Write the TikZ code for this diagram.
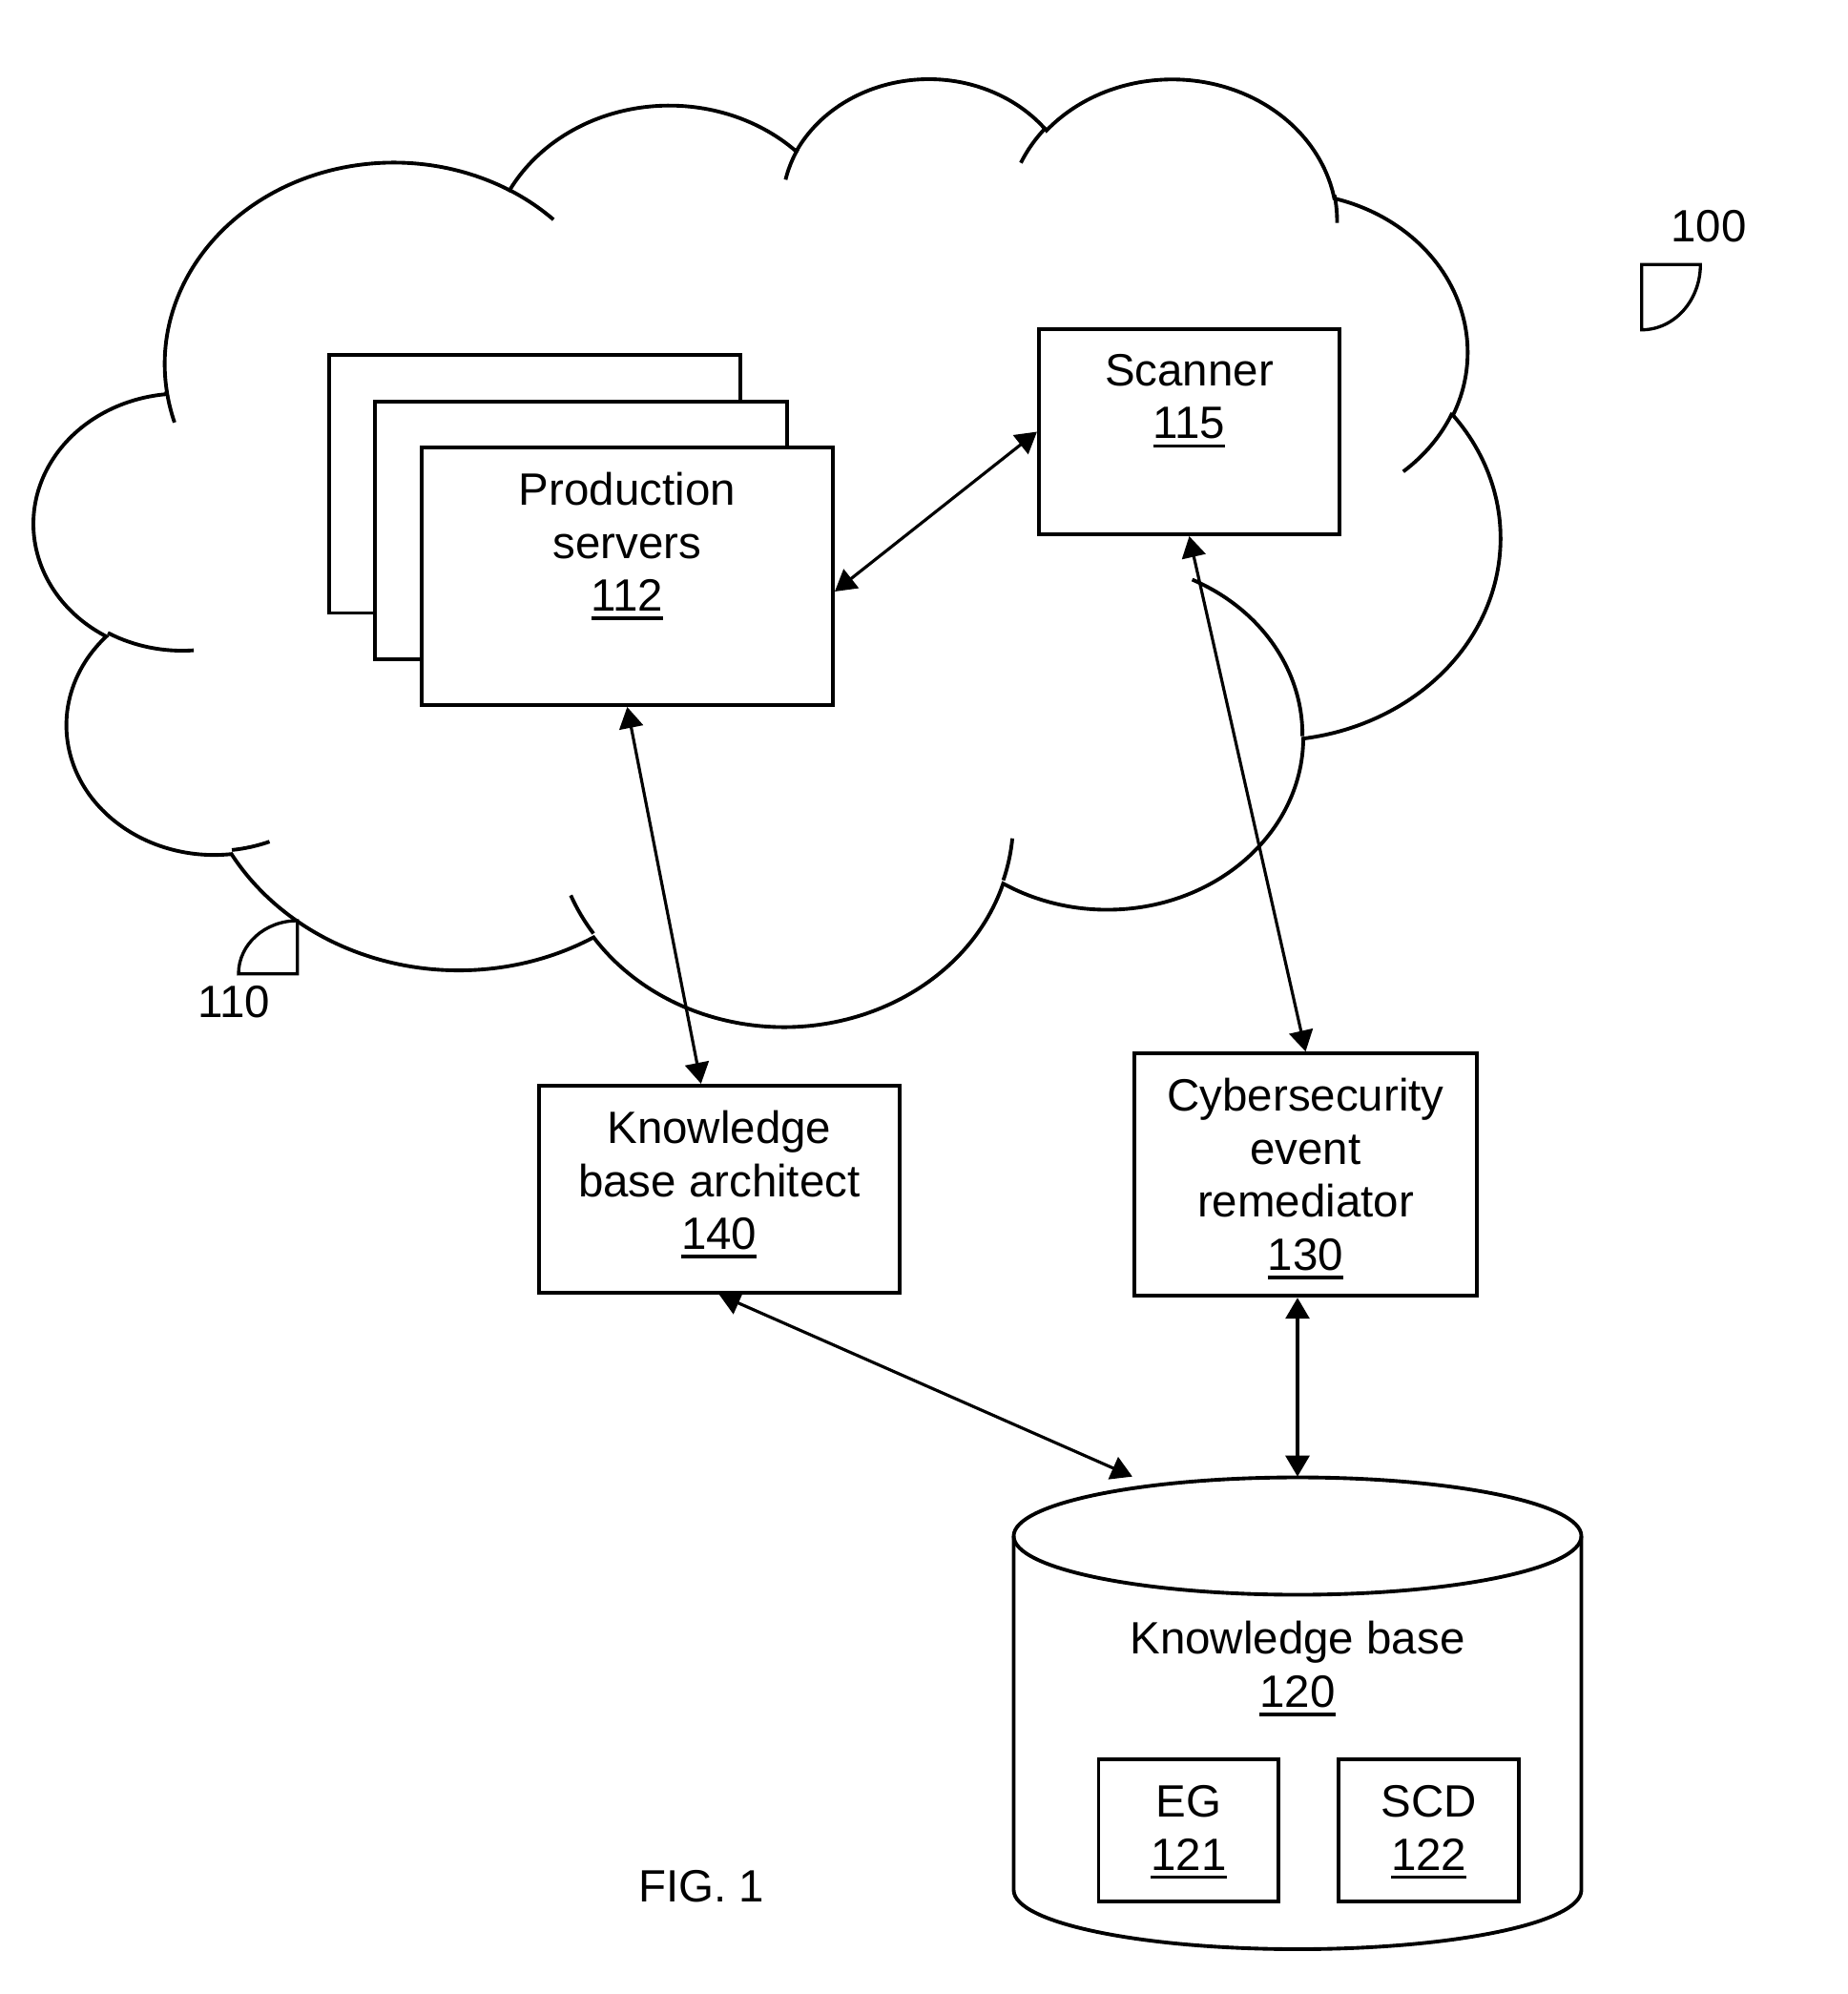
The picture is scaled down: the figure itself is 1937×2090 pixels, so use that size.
\documentclass[tikz,border=0pt]{standalone}
\usepackage{fontspec}
\setmainfont{Liberation Sans}
\usetikzlibrary{arrows.meta,positioning}

\newcommand{\refnum}[1]{\setbox0\hbox{#1}\rlap{\rule[-2.6pt]{\wd0}{1pt}}\box0}

\begin{document}
\begin{tikzpicture}[x=0.01cm,y=-0.01cm,>={Triangle[length=2.2mm,width=2.5mm]}]
\tikzstyle{box}=[draw,fill=white,line width=1.1pt,inner sep=0pt]
\tikzstyle{lbl}=[align=center,inner sep=0pt,font=\fontsize{13.5}{15.8}\selectfont]
\tikzstyle{link}=[line width=0.9pt,<->]
\tikzstyle{outline}=[line width=1.1pt]

\useasboundingbox (0,0) rectangle (1937,2090);

\begin{scope}[shift={(36.2,79.8)},x=0.35533mm,y=-0.22977mm,outline]
\draw (39.00,143.70)
  arc[start angle=172.25,end angle=300.37,x radius=67.53,y radius=91.90]
  arc[start angle=-152.04,end angle=-45.45,x radius=53.33,y radius=72.67]
  arc[start angle=-153.49,end angle=-37.32,x radius=43.65,y radius=59.45]
  arc[start angle=-139.71,end angle=-10.21,x radius=48.57,y radius=65.95]
  arc[start angle=-74.77,end angle=23.21,x radius=53.33,y radius=72.73]
  arc[start angle=-37.52,end angle=81.86,x radius=67.75,y radius=92.20]
  arc[start angle=0.46,end angle=121.98,x radius=57.85,y radius=78.67]
  arc[start angle=16.85,end angle=146.22,x radius=67.52,y radius=92.15]
  arc[start angle=58.99,end angle=150.20,x radius=77.20,y radius=105.43]
  arc[start angle=83.31,end angle=223.11,x radius=43.60,y radius=59.18]
  arc[start angle=120.36,end angle=264.11,x radius=43.45,y radius=59.45]
  -- cycle;
\draw (46.93,261.77) arc[start angle=85.55,end angle=120.36,x radius=43.45,y radius=59.45];
\draw (69.28,348.99) arc[start angle=68.24,end angle=83.31,x radius=43.60,y radius=59.18];
\draw (164.78,390.90) arc[start angle=146.22,end angle=158.47,x radius=67.52,y radius=92.15];
\draw (288.27,347.51) arc[start angle=4.74,end angle=16.85,x radius=67.52,y radius=92.15];
\draw (341.29,229.54) arc[start angle=-64.02,end angle=0.46,x radius=57.85,y radius=78.67];
\draw (417.98,153.54) arc[start angle=23.21,end angle=49.63,x radius=53.33,y radius=72.73];
\draw (383.24,54.26) arc[start angle=-10.21,end angle=0.82,x radius=48.57,y radius=65.95];
\draw (290.78,39.52) arc[start angle=-156.29,end angle=-139.71,x radius=48.57,y radius=65.95];
\draw (221.41,47.20) arc[start angle=-167.73,end angle=-153.49,x radius=43.65,y radius=59.45];
\draw (140.00,51.92) arc[start angle=-59.63,end angle=-45.73,x radius=67.53,y radius=91.90];
\draw (41.27,157.89) arc[start angle=163.19,end angle=172.25,x radius=67.53,y radius=91.90];
\end{scope}

\node[box,minimum width=4.31cm,minimum height=2.70cm] (srv3) at (560.6,507.4) {};
\node[box,minimum width=4.31cm,minimum height=2.70cm] (srv2) at (609.0,555.7) {};
\node[box,minimum width=4.31cm,minimum height=2.70cm] (prod) at (657.4,604.0) {};
\node[lbl,below=2.75mm of prod.north] (prodtxt) {Production\\servers\\\refnum{112}};

\node[box,minimum width=3.15cm,minimum height=2.15cm] (scan) at (1246.5,452.5) {};
\node[lbl,below=2.75mm of scan.north] (scantxt) {Scanner\\\refnum{115}};

\node[box,minimum width=3.78cm,minimum height=2.17cm] (kba) at (753.8,1246.4) {};
\node[lbl,below=2.75mm of kba.north] (kbatxt) {Knowledge\\base architect\\\refnum{140}};

\node[box,minimum width=3.58cm,minimum height=2.54cm] (cer) at (1368.5,1231.2) {};
\node[lbl,below=2.75mm of cer.north] (certxt) {Cybersecurity\\event\\remediator\\\refnum{130}};

\node[minimum width=5.95cm,minimum height=4.95cm,inner sep=0pt] (kb) at (1360,1796) {};
\draw[outline] (1360,1610) ellipse [x radius=297.5,y radius=61.5];
\draw[outline] (1062.5,1610) -- (1062.5,1981) arc[start angle=180,end angle=0,x radius=297.5,y radius=62] -- (1657.5,1610);
\node[lbl,below=1.51cm of kb.north] (kbtxt) {Knowledge base\\\refnum{120}};
\node[box,minimum width=1.886cm,minimum height=1.49cm] (eg) at (1245.9,1918.8) {};
\node[lbl,below=2.85mm of eg.north] (egtxt) {EG\\\refnum{121}};
\node[box,minimum width=1.891cm,minimum height=1.49cm] (scd) at (1497.8,1918.8) {};
\node[lbl,below=2.85mm of scd.north] (scdtxt) {SCD\\\refnum{122}};

\draw[link] ([yshift=-1.6mm]prod.east) -- (scan.west);
\draw[link] (prod.south) -- ([xshift=-1.9mm]kba.north);
\draw[link] (scan.south) -- (cer.north);
\draw[link] (kba.south) -- ([xshift=-17.3mm]kb.north);
\draw[link] (kb.north |- cer.south) -- (kb.north);

\node[lbl,anchor=base] (lbl100) at (1791,253.3) {100};
\draw[line width=0.95pt] (1782.3,277.3) -- (1720.7,277.3) -- (1720.7,345.7) arc[start angle=90,end angle=0,x radius=61.6,y radius=68.4] -- cycle;
\node[lbl,anchor=base] (lbl110) at (245,1066) {110};
\draw[line width=0.95pt] (311.7,965) -- (311.7,1020.7) -- (250,1020.7) arc[start angle=180,end angle=270,x radius=61.7,y radius=55.7] -- cycle;

\node[lbl,anchor=base] (fig) at (735,1993) {FIG. 1};
\end{tikzpicture}
\end{document}
